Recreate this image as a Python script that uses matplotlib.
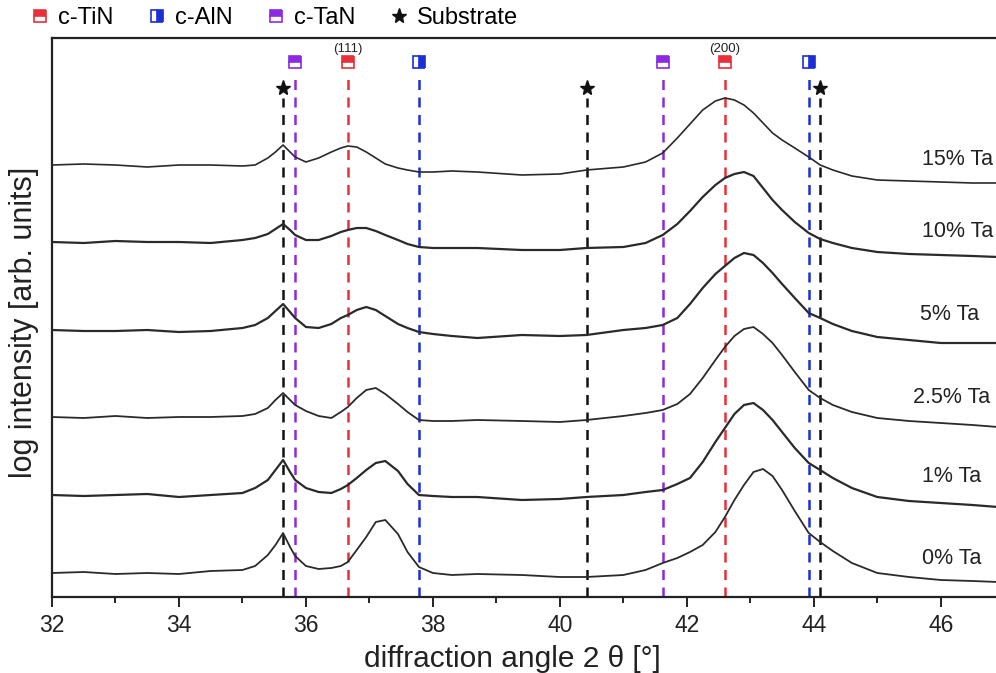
import matplotlib
matplotlib.use("Agg")
import matplotlib.pyplot as plt
from matplotlib.lines import Line2D
from matplotlib.ticker import MultipleLocator

plt.rcParams["font.family"] = ["Liberation Sans", "DejaVu Sans"]

# diffraction angle grid (degrees 2-theta)
two_theta = [32, 32.5, 33, 33.5, 34, 34.5, 35, 35.2, 35.4, 35.52, 35.64, 35.75,
             35.83, 36.0, 36.2, 36.4, 36.55, 36.66, 36.8, 36.95, 37.1, 37.25,
             37.45, 37.6, 37.78, 38.0, 38.3, 38.7, 39.4, 40.0, 40.42, 41.0,
             41.35, 41.62, 41.85, 42.05, 42.25, 42.45, 42.6, 42.75, 42.9, 43.05,
             43.2, 43.35, 43.5, 43.7, 43.92, 44.1, 44.3, 44.6, 45.0, 45.5, 46.0,
             46.5, 46.9]

# stacked log-intensity traces (arb. units, already offset)
ta_15 = [432, 433, 432, 430, 432, 432, 431, 432, 439, 445, 452, 445, 440, 435,
         439, 445, 449, 451, 450, 445, 439, 433, 429, 427, 425, 425, 426, 425,
         422, 423, 427, 430, 435, 444, 459, 473, 487, 496, 499, 497, 492, 484,
         474, 464, 457, 449, 440, 432, 427, 421, 417, 416, 415, 414, 414]
ta_10 = [355, 354, 356, 355, 355, 354, 357, 359, 363, 368, 373, 367, 362, 357,
         357, 361, 365, 367, 369, 369, 366, 362, 357, 353, 350, 349, 349, 349,
         347, 347, 349, 350, 354, 362, 373, 386, 400, 412, 419, 423, 425, 421,
         409, 397, 387, 375, 364, 358, 354, 349, 345, 343, 342, 341, 340]
ta_5 = [267, 266, 266, 267, 265, 266, 269, 272, 279, 286, 293, 285, 279, 270,
        269, 273, 279, 282, 287, 290, 287, 281, 273, 269, 265, 263, 261, 259,
        262, 261, 262, 267, 269, 272, 279, 293, 309, 323, 331, 339, 344, 342,
        334, 324, 313, 299, 284, 279, 273, 266, 260, 257, 254, 254, 254]
ta_2_5 = [180, 179, 181, 179, 180, 180, 181, 183, 189, 197, 204, 197, 192, 186,
          181, 179, 185, 190, 199, 207, 209, 203, 193, 185, 177, 176, 176, 177,
          176, 175, 177, 181, 184, 187, 193, 203, 219, 237, 250, 261, 268, 270,
          263, 254, 242, 225, 207, 199, 192, 185, 179, 176, 174, 172, 170]
ta_1 = [102, 101, 102, 103, 100, 102, 104, 109, 117, 127, 137, 125, 117, 109,
        105, 104, 108, 112, 119, 127, 134, 136, 126, 113, 102, 101, 100, 100,
        97, 98, 100, 102, 105, 107, 113, 119, 135, 155, 169, 183, 192, 194,
        187, 177, 165, 149, 134, 127, 119, 109, 100, 96, 94, 92, 90]
ta_0 = [24, 25, 23, 24, 23, 26, 27, 31, 42, 52, 64, 50, 41, 31, 28, 29, 31,
        35, 47, 60, 75, 77, 63, 45, 30, 24, 22, 23, 22, 20, 20, 22, 27, 34, 39,
        45, 52, 65, 80, 97, 112, 125, 128, 121, 107, 86, 64, 55, 46, 34, 24,
        20, 17, 16, 15]

traces = [ta_15, ta_10, ta_5, ta_2_5, ta_1, ta_0]
trace_widths = [1.2, 1.6, 1.6, 1.3, 1.6, 1.3]
trace_labels = ["15% Ta", "10% Ta", "5% Ta", "2.5% Ta", "1% Ta", "0% Ta"]
label_x = [45.70, 45.70, 45.67, 45.57, 45.70, 45.70]
label_y = [437, 365, 282, 199, 120, 39]

# reference reflection positions (degrees 2-theta)
substrate_pos = [35.64, 40.42, 44.10]
tan_pos = [35.83, 41.62]
tin_pos = [36.66, 42.60]
aln_pos = [37.78, 43.92]
tin_hkl = ["(111)", "(200)"]

C_TIN = "#e8303a"
C_ALN = "#1c2fd6"
C_TAN = "#8a2be2"
C_SUB = "#111111"
C_TXT = "#222222"

fig = plt.figure(figsize=(9.96, 6.73), dpi=100)
ax = fig.add_axes([52 / 996, 76 / 673, 1 - 52 / 996, (597 - 38) / 673])

ax.set_xlim(32, 46.87)
ax.set_ylim(0, 559)

for y, w in zip(traces, trace_widths):
    ax.plot(two_theta, y, color="#2a2a2a", lw=w, zorder=3,
            solid_joinstyle="round")

for x, y, t in zip(label_x, label_y, trace_labels):
    ax.text(x, y, t, fontsize=15.5, color=C_TXT, va="center", ha="left",
            zorder=4, clip_on=False)

dash = (0, (4, 3))
marker_top = 535
star_top = 509


def reflections(positions, color, fill, top):
    ax.vlines(positions, 0, top - 10, colors=color, linestyles=dash,
              lw=1.8, zorder=2)
    ax.plot(positions, [top] * len(positions), ls="none", marker="s",
            ms=8, mfc=color, mec=color, mfcalt="white", fillstyle=fill,
            mew=1.2, zorder=5, clip_on=False)


reflections(tan_pos, C_TAN, "top", marker_top)
reflections(tin_pos, C_TIN, "top", marker_top)
reflections(aln_pos, C_ALN, "right", marker_top)

ax.vlines(substrate_pos, 0, star_top - 10, colors=C_SUB, linestyles=dash,
          lw=1.8, zorder=2)
ax.plot(substrate_pos, [star_top] * len(substrate_pos), ls="none",
        marker="*", ms=11, color=C_SUB, zorder=5)

for x, t in zip(tin_pos, tin_hkl):
    ax.text(x, marker_top + 7, t, fontsize=9.5, ha="center", va="bottom",
            color=C_TXT)

# axes styling
for side in ["left", "top", "bottom"]:
    ax.spines[side].set_linewidth(1.6)
    ax.spines[side].set_color(C_TXT)
ax.spines["right"].set_visible(False)
ax.set_yticks([])
ax.xaxis.set_major_locator(MultipleLocator(2))
ax.xaxis.set_minor_locator(MultipleLocator(1))
ax.tick_params(axis="x", which="major", direction="out", length=7, width=1.4,
               labelsize=16.5, pad=5, colors=C_TXT)
ax.tick_params(axis="x", which="minor", direction="out", length=4, width=1.2)
ax.tick_params(axis="x", which="both", top=False)
ax.set_xlabel("diffraction angle 2 θ [°]", fontsize=21.5, color=C_TXT)
ax.xaxis.set_label_coords(0.488, -0.085)
ax.set_ylabel("log intensity [arb. units]", fontsize=22, color=C_TXT)
ax.yaxis.set_label_coords(-0.0135, 0.492)

# legend row above the frame
legend_items = [
    ("c-TiN", dict(marker="s", mfc=C_TIN, mec=C_TIN, mfcalt="white",
                   fillstyle="top", ms=8, mew=1.2)),
    ("c-AlN", dict(marker="s", mfc=C_ALN, mec=C_ALN, mfcalt="white",
                   fillstyle="right", ms=8, mew=1.2)),
    ("c-TaN", dict(marker="s", mfc=C_TAN, mec=C_TAN, mfcalt="white",
                   fillstyle="top", ms=8, mew=1.2)),
    ("Substrate", dict(marker="*", color=C_SUB, ms=11)),
]
handles = [Line2D([], [], ls="none", label=l, **kw) for l, kw in legend_items]
fig.legend(handles=handles, loc="center left", ncol=4,
           bbox_to_anchor=(31 / 996, 1 - 18 / 673), frameon=False,
           fontsize=17, handletextpad=0.35, columnspacing=1.45,
           handlelength=0.8, borderaxespad=0, borderpad=0)

fig.savefig("out.png", dpi=100)
